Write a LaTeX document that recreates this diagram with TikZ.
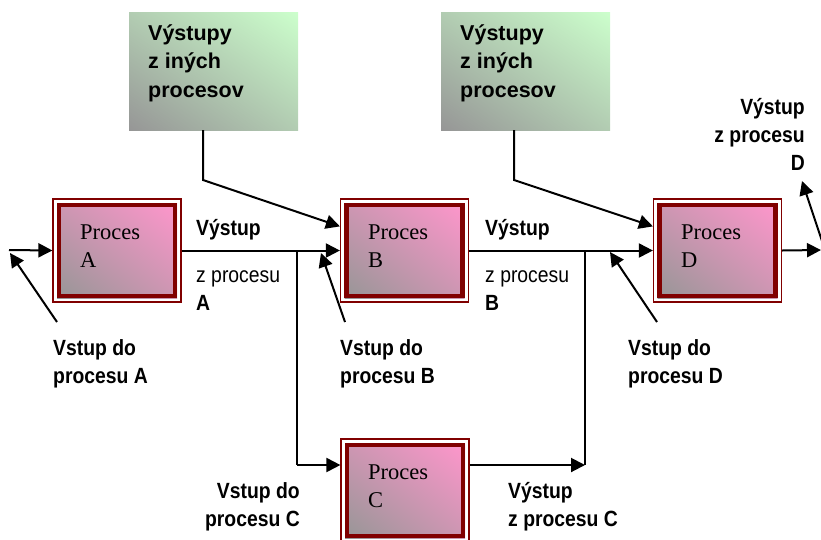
\documentclass[tikz,border=0pt]{standalone}
\usepackage{fontspec}
\setmainfont{Liberation Serif}
\newfontfamily\labfont[FakeStretch=0.88]{Liberation Sans}
\newfontfamily\boxfont{Liberation Sans}
\usetikzlibrary{arrows.meta,calc,shadings}

\definecolor{frame}{RGB}{128,0,0}
\definecolor{pinkhi}{RGB}{255,150,204}
\definecolor{pinkmid}{RGB}{205,150,178}
\definecolor{greylo}{RGB}{150,150,150}
\definecolor{greenhi}{RGB}{204,255,204}
\definecolor{greenmid}{RGB}{178,204,178}

\tikzset{
  procbox/.style={rectangle, inner sep=0pt, minimum width=128pt, minimum height=103pt,
    draw=frame, line width=1.2pt,
    path picture={
      \fill[white] (path picture bounding box.south west) rectangle (path picture bounding box.north east);
      \shade[lower left=greylo, upper right=pinkhi, upper left=pinkmid, lower right=pinkmid]
        ([shift={(4pt,4pt)}]path picture bounding box.south west) rectangle
        ([shift={(-4pt,-4pt)}]path picture bounding box.north east);
      \draw[frame, line width=4.6pt]
        ([shift={(5.9pt,5.9pt)}]path picture bounding box.south west) rectangle
        ([shift={(-5.9pt,-5.9pt)}]path picture bounding box.north east);
    }},
  srcbox/.style={rectangle, inner sep=0pt, minimum width=169pt, minimum height=118pt,
    lower left=greylo, upper right=greenhi, upper left=greenmid, lower right=greenmid},
  % multi-line nodes: the base anchor sits on the last line
  proctext/.style={font=\fontsize{22.5}{28}\selectfont, align=left, inner sep=0pt, anchor=base west},
  srctext/.style={font=\boxfont\bfseries\fontsize{21.5}{28.5}\selectfont, align=left, inner sep=0pt, anchor=base west},
  lab/.style={font=\labfont\bfseries\fontsize{22}{28}\selectfont, align=left, inner sep=0pt, anchor=base west},
  labr/.style={lab, align=right, anchor=base east},
  labplain/.style={font=\labfont\fontsize{22}{28}\selectfont, align=left, inner sep=0pt, anchor=base west},
  conn/.style={line width=2pt, -{Triangle[length=14pt,width=14pt]}},
  wire/.style={line width=2pt},
}

\begin{document}
\begin{tikzpicture}[x=1pt,y=-1pt]
  \useasboundingbox (0,0) rectangle (821,539);
  \clip (0,0) rectangle (821,539);

  % source boxes
  \node[srcbox, shade] (g1) at (213.5,71) {};
  \node[srcbox, shade] (g2) at (525.5,71) {};
  \node[srctext] (g1t) at (148,97) {Výstupy\\z iných\\procesov};
  \node[srctext] (g2t) at (460,97) {Výstupy\\z iných\\procesov};

  % process boxes
  \node[procbox] (A) at (117,250.5) {};
  \node[procbox] (B) at (404.5,250.5) {};
  \node[procbox] (D) at (717.5,250.5) {};
  \node[procbox] (C) at (405,490.5) {};
  \node[proctext] (At) at (80,267) {Proces\\A};
  \node[proctext] (Bt) at (368,267) {Proces\\B};
  \node[proctext] (Dt) at (681,267) {Proces\\D};
  \node[proctext] (Ct) at (368,507) {Proces\\C};

  % junction points
  \coordinate (in0) at (9,250);
  \coordinate (outD) at (821,250);
  \coordinate (jA) at (297,250);
  \coordinate (jC) at (297,465);
  \coordinate (jD) at (585,465);
  \coordinate (jE) at (585,250);
  \coordinate (k1) at (203,180);
  \coordinate (k2) at (514,180);

  % main flow
  \draw[conn] (in0) -- (A.west);
  \draw[conn] (A.east) -- (B.west);
  \draw[conn] (B.east) -- (D.west);
  \draw[conn] (D.east) -- (outD);

  % branch through C
  \draw[wire] (jA) -- (jC);
  \draw[conn] (jC) -- (jC -| C.west);
  \draw[conn] (jC -| C.east) -- (jD);
  \draw[wire] (jD) -- (jE);

  % inputs from other processes
  \draw[conn] (k1 |- g1.south) -- (k1) -- ($(B.north west)+(0,28)$);
  \draw[conn] (k2 |- g2.south) -- (k2) -- ($(D.north west)+(0,28)$);

  % pointer arrows
  \coordinate (pA) at (57,322);
  \coordinate (pB) at (345,322);
  \coordinate (pD) at (657,322);
  \coordinate (pO) at (823,244);
  \draw[conn] (pA) -- (10,253);
  \draw[conn] (pB) -- (321,253);
  \draw[conn] (pD) -- (610,252);
  \draw[conn] (pO) -- (802,181);

  % labels
  \node[lab] (oA) at (196,235) {Výstup};
  \node[labplain] (oA2) at (196,310) {z procesu\\\textbf{A}};
  \node[lab] (oB) at (485,235) {Výstup};
  \node[labplain] (oB2) at (485,310) {z procesu\\\textbf{B}};
  \node[labr] (oD) at (805,170) {Výstup\\z procesu\\D};
  \node[lab] (iA) at (53,383) {Vstup do\\procesu A};
  \node[lab] (iB) at (340,383) {Vstup do\\procesu B};
  \node[lab] (iD) at (628,383) {Vstup do\\procesu D};
  \node[labr] (iC) at (300,526) {Vstup do\\procesu C};
  \node[lab] (oC) at (508,526) {Výstup\\z procesu C};
\end{tikzpicture}
\end{document}
